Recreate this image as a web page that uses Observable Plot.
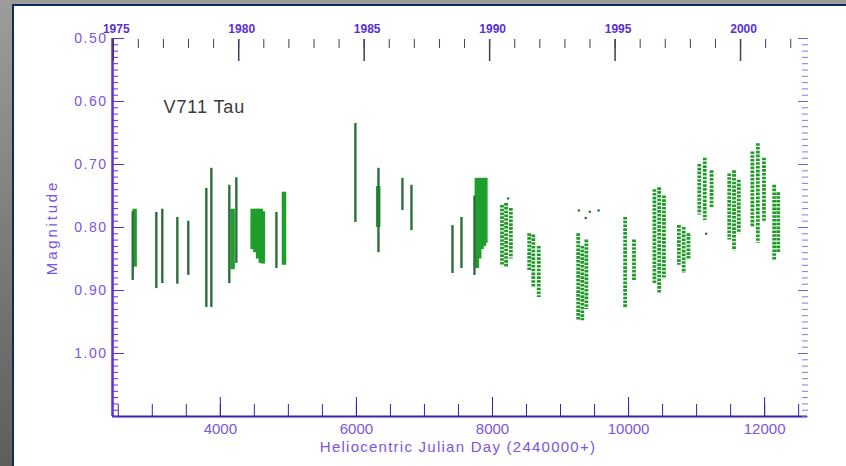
<!DOCTYPE html>
<html>
<head>
<meta charset="utf-8">
<script src="https://cdn.jsdelivr.net/npm/d3@7"></script>
<script src="https://cdn.jsdelivr.net/npm/@observablehq/plot@0.6"></script>
<style>
  html, body { margin: 0; padding: 0; width: 846px; height: 466px; overflow: hidden; }
  body { background: linear-gradient(180deg, #9c9c9c 0%, #7a7a7a 55%, #5e5e5e 100%); position: relative; }
  #panel { position: absolute; left: 12px; top: 4px; width: 850px; height: 480px; background: #ffffff; border-left: 2px solid #0c2c60; border-top: 2px solid #0c2c60; }
  #chart { position: absolute; left: 0; top: 0; }
</style>
</head>
<body>
<div id="panel"></div>
<div id="chart"></div>
<script>
// ---- Data (HJD - 2440000, magnitude) ----
// single observing seasons drawn as thin ranges
const thinDay    = [2712, 3059, 3147, 3368, 3529, 3794, 3868, 4132, 4235, 4824, 5985, 6324, 6676, 6809, 7412, 7544, 7735];
const thinBright = [0.775, 0.776, 0.771, 0.784, 0.790, 0.738, 0.706, 0.733, 0.721, 0.776, 0.635, 0.706, 0.722, 0.733, 0.797, 0.784, 0.750];
const thinFaint  = [0.884, 0.897, 0.889, 0.890, 0.876, 0.927, 0.927, 0.889, 0.857, 0.865, 0.792, 0.840, 0.773, 0.805, 0.873, 0.865, 0.876];

// densely covered seasons
const denseDay    = [2740, 4180, 4475, 4515, 4555, 4595, 4625, 4935, 6320, 7770, 7805, 7840, 7875, 7895];
const denseBright = [0.771, 0.771, 0.771, 0.771, 0.771, 0.771, 0.775, 0.744, 0.735, 0.722, 0.722, 0.722, 0.722, 0.722];
const denseFaint  = [0.863, 0.867, 0.835, 0.840, 0.850, 0.857, 0.858, 0.860, 0.800, 0.865, 0.850, 0.835, 0.830, 0.825];

// later seasons: clumps of individual points
const clumpDay    = [8140, 8200, 8270, 8540, 8600, 8680, 9260, 9320, 9380, 9950, 10080, 10380, 10450, 10520, 10740, 10810, 10880, 11040, 11120, 11220, 11480, 11550, 11620, 11820, 11900, 11990, 12140, 12200];
const clumpBright = [0.765, 0.762, 0.770, 0.810, 0.812, 0.830, 0.810, 0.830, 0.820, 0.784, 0.820, 0.740, 0.737, 0.750, 0.797, 0.800, 0.810, 0.700, 0.690, 0.710, 0.715, 0.710, 0.725, 0.680, 0.667, 0.690, 0.733, 0.745];
const clumpFaint  = [0.860, 0.863, 0.850, 0.870, 0.895, 0.911, 0.948, 0.948, 0.930, 0.927, 0.884, 0.890, 0.905, 0.880, 0.860, 0.873, 0.850, 0.780, 0.789, 0.770, 0.820, 0.837, 0.810, 0.800, 0.825, 0.790, 0.852, 0.840];

// isolated points
const scatterDay = [8230, 9270, 9370, 9430, 9559, 11140];
const scatterMag = [0.754, 0.773, 0.785, 0.775, 0.773, 0.810];

// axes
const xDomain = [2415, 12630];
const yDomain = [0.50, 1.10];
const xMajor = [4000, 6000, 8000, 10000, 12000];
const xMinor = d3.range(2500, 12501, 500);
const yMajor = [0.50, 0.60, 0.70, 0.80, 0.90, 1.00];
const yMinor = d3.range(50, 111).map(v => v / 100);
const yearsAll = d3.range(1975, 2003);
const yearsMajor = [1975, 1980, 1985, 1990, 1995, 2000];
const title = "V711 Tau";
const xLabel = "Heliocentric Julian Day (2440000+)";
const yLabel = "Magnitude";

// top axis: calendar year as placed on the chart
const yearToDay = y => 2426 + (y - 1975) * 368.8;
const dayToYear = d => Math.round(1975 + (d - 2426) / 368.8);

const rows = (xs, a, b) => xs.map((x, i) => ({x, y1: a[i], y2: b[i]}));
const thin = rows(thinDay, thinBright, thinFaint);
const dense = rows(denseDay, denseBright, denseFaint);
const clumps = rows(clumpDay, clumpBright, clumpFaint);
const scatter = scatterDay.map((x, i) => ({x, y: scatterMag[i]}));

const axisPurple = "#5f2ee0";
const textPurple = "#7a55e2";
const font = "'Liberation Sans', Arial, sans-serif";

const chart = Plot.plot({
  width: 846,
  height: 466,
  marginLeft: 112,
  marginRight: 39,
  marginTop: 38,
  marginBottom: 50,
  style: {background: "transparent", fontFamily: font, overflow: "visible"},
  x: {domain: xDomain},
  y: {domain: yDomain, reverse: true},
  marks: [
    // data
    Plot.ruleX(dense, {x: "x", y1: "y1", y2: "y2", stroke: "#1f9e2c", strokeWidth: 4.5}),
    Plot.ruleX(thin, {x: "x", y1: "y1", y2: "y2", stroke: "#2f6e3d", strokeWidth: 2.4}),
    Plot.ruleX(clumps, {x: "x", y1: "y1", y2: "y2", stroke: "#1c9c25", strokeWidth: 3.8, strokeDasharray: "2.6,1.2"}),
    Plot.dot(scatter, {x: "x", y: "y", r: 1.3, fill: "#2a7a33"}),

    // axis lines
    Plot.ruleX([xDomain[0]], {stroke: axisPurple, strokeWidth: 2.5}),
    Plot.ruleY([yDomain[1]], {stroke: "#3d1fa8", strokeWidth: 2}),

    // left axis
    Plot.axisY({anchor: "left", ticks: yMinor, tickSize: -6, tickFormat: () => "", label: null, stroke: axisPurple}),
    Plot.axisY({anchor: "left", ticks: yMajor, tickSize: -12, tickFormat: () => "", label: null, stroke: axisPurple}),
    Plot.axisY({anchor: "left", ticks: yMajor, tickSize: 0, tickPadding: 5, tickFormat: d3.format(".2f"), label: null, fill: textPurple, fontSize: 14}),

    // right axis (ticks only)
    Plot.axisY({anchor: "right", ticks: yMinor, tickSize: -6, tickFormat: () => "", label: null, stroke: "#7a5ce0", strokeOpacity: 0.85}),
    Plot.axisY({anchor: "right", ticks: yMajor, tickSize: -10, tickFormat: () => "", label: null, stroke: "#7a5ce0"}),

    // bottom axis
    Plot.axisX({anchor: "bottom", ticks: xMinor, tickSize: -12, tickFormat: () => "", label: null, stroke: "#3d1fa8"}),
    Plot.axisX({anchor: "bottom", ticks: xMajor, tickSize: -19, tickFormat: () => "", label: null, stroke: "#3d1fa8"}),
    Plot.axisX({anchor: "bottom", ticks: xMajor, tickSize: 0, tickPadding: 7, tickFormat: d => String(d), label: null, fill: textPurple, fontSize: 15}),

    // top axis (calendar years)
    Plot.axisX({anchor: "top", ticks: yearsAll.map(yearToDay), tickSize: -9, tickFormat: () => "", label: null, stroke: "#463a5e"}),
    Plot.axisX({anchor: "top", ticks: yearsMajor.map(yearToDay), tickSize: -22, tickFormat: () => "", label: null, stroke: "#463a5e", strokeWidth: 1.5}),
    Plot.axisX({anchor: "top", ticks: yearsMajor.map(yearToDay), tickSize: 0, tickPadding: 6, tickFormat: d => String(dayToYear(d)), label: null, fill: "#5a2ed6", fontSize: 12, fontWeight: "bold", dx: 3}),

    // titles
    Plot.text([title], {frameAnchor: "top-left", dx: 51, dy: 62, text: d => d, fontSize: 18, fill: "#3a3a3a", textAnchor: "start"}),
    Plot.text([yLabel], {frameAnchor: "left", dx: -60, dy: 0, text: d => d, rotate: -90, textAnchor: "middle", fontSize: 15, fill: textPurple}),
    Plot.text([xLabel], {frameAnchor: "bottom", dx: -2, dy: 35, text: d => d, textAnchor: "middle", fontSize: 15, fill: textPurple})
  ]
});

// letter spacing to match the wide lettering of the original
const spacing = new Map([[title, "0.9px"], [yLabel, "2.8px"], [xLabel, "1.25px"]]);
d3.select(chart).selectAll("text").each(function() {
  const t = this.textContent;
  if (spacing.has(t)) this.style.letterSpacing = spacing.get(t);
  else if (/^[01]\.\d0$/.test(t)) this.style.letterSpacing = "1.5px";
});
document.getElementById("chart").appendChild(chart);
</script>
</body>
</html>
